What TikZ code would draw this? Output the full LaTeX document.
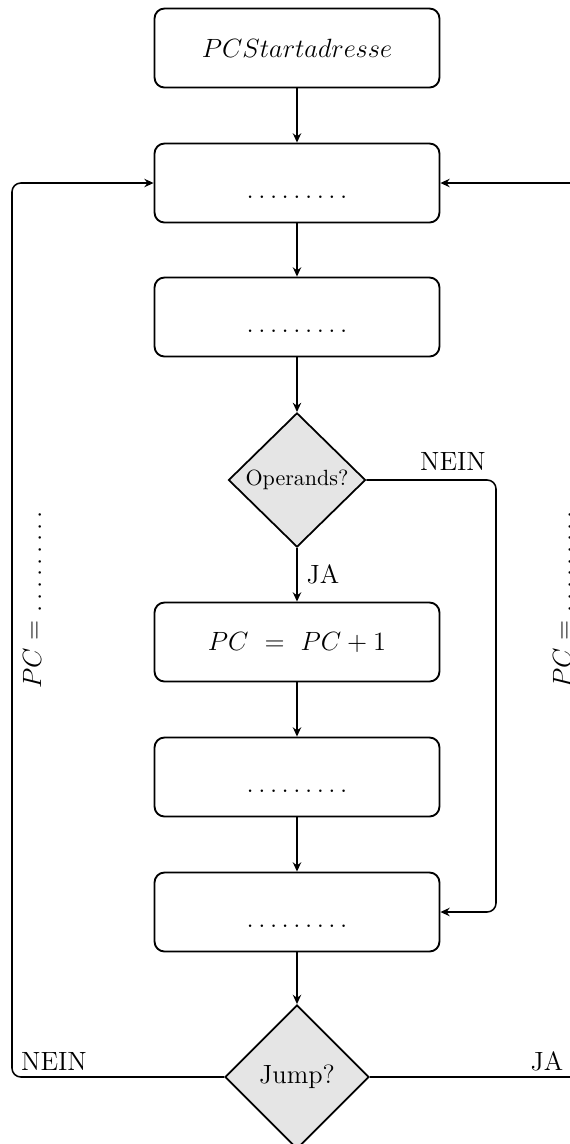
\documentclass[tikz,border=0pt]{standalone}
\usetikzlibrary{shapes.geometric,arrows.meta}
% a row of nine evenly spaced dots
\newcommand\spdots{.\kern2.05pt.\kern2.05pt.\kern2.05pt.\kern2.05pt.\kern2.05pt.\kern2.05pt.\kern2.05pt.\kern2.05pt.}
% the same row, sitting below the middle of its box
\newcommand\lowdots{\raisebox{-6.9pt}[0pt][0pt]{\spdots}}
\begin{document}
\begin{tikzpicture}[x=0.454545pt,y=-0.454545pt,
  stepbox/.style={draw,line width=0.85pt,rounded corners=4.5pt,
    minimum width=129.5pt,minimum height=35.9pt,inner sep=0pt,
    font=\fontsize{12}{14}\selectfont},
  decision/.style={draw,line width=0.8pt,diamond,fill=gray!20,inner sep=0pt,
    minimum width=62.3pt,minimum height=61pt},
  flow/.style={line width=0.7pt,-{Stealth[length=4.2pt,width=3.8pt]}},
  branch/.style={line width=0.7pt,rounded corners=4pt},
  lbl/.style={font=\fontsize{12}{14}\selectfont,inner sep=0pt}]
\useasboundingbox (0,0) rectangle (570,1144);

% main column
\node[stepbox] (start) at (297,48) {$PCStartadresse$};
\node[stepbox] (fetch) at (297,183) {\lowdots};
\node[stepbox] (decode) at (297,317) {\lowdots};
\node[decision,font=\fontsize{10}{12}\selectfont] (ops) at (297,480) {Operands?};
\node[stepbox] (inc) at (297,642) {$PC \ = \ PC + 1$};
\node[stepbox] (load) at (297,777) {\lowdots};
\node[stepbox] (exec) at (297,912) {\lowdots};
\node[decision,minimum width=65.5pt,minimum height=65.5pt,
  font=\fontsize{12}{14}\selectfont] (jump) at (297,1077) {Jump?};

% loop corners
\coordinate (lt) at (12,183);
\coordinate (lb) at (12,1077);
\coordinate (rt) at (582,183);
\coordinate (rb) at (582,1077);
\coordinate (nt) at (496,480);
\coordinate (nb) at (496,912);

% straight flow
\draw[flow] (start) -- (fetch);
\draw[flow] (fetch) -- (decode);
\draw[flow] (decode) -- (ops);
\draw[flow] (ops) -- node[lbl,right=4pt,pos=0.5] {JA} (inc);
\draw[flow] (inc) -- (load);
\draw[flow] (load) -- (exec);
\draw[flow] (exec) -- (jump);

% branches
\draw[branch,flow] (ops.east) -- (nt) -- (nb) -- (exec.east);
\draw[branch,flow] (jump.west) -- (lb) -- (lt) -- (fetch.west);
\draw[branch,flow] (jump.east) -- (rb) -- (rt) -- (fetch.east);

% branch labels
\node[lbl] (opsno) at (453,461) {NEIN};
\node[lbl] (jumpno) at (54,1061) {NEIN};
\node[lbl] (jumpyes) at (547,1061) {JA};
\node[rotate=90,font=\fontsize{12}{14}\selectfont,inner sep=0pt] (pcl) at (32,600)
  {$PC =$ \spdots};
\node[rotate=90,font=\fontsize{12}{14}\selectfont,inner sep=0pt] (pcr) at (562,600)
  {$PC =$ \spdots};
\end{tikzpicture}
\end{document}
